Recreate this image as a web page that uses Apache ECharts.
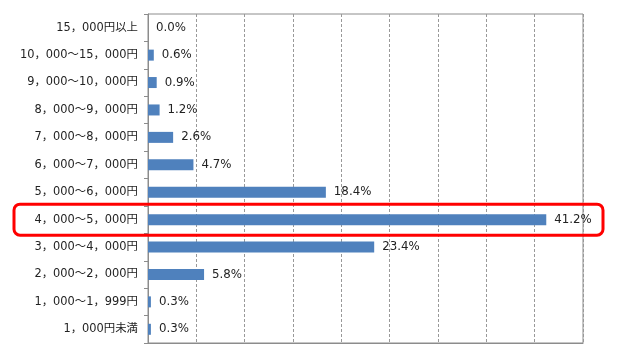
<!DOCTYPE html>
<html><head><meta charset="utf-8">
<script src="https://cdn.jsdelivr.net/npm/echarts@6/dist/echarts.min.js"></script>
<style>html,body{margin:0;padding:0;background:#fff}#c{width:620px;height:359px}</style>
</head><body><div id="c"></div>
<script>
const categories = ['15，000円以上','10，000～15，000円','9，000～10，000円','8，000～9，000円','7，000～8，000円','6，000～7，000円','5，000～6，000円','4，000～5，000円','3，000～4，000円','2，000～2，000円','1，000～1，999円','1，000円未満'];
const values = [0.0, 0.6, 0.9, 1.2, 2.6, 4.7, 18.4, 41.2, 23.4, 5.8, 0.3, 0.3];
const highlightCategory = '4，000～5，000円';

const chart = echarts.init(document.getElementById('c'), null, {renderer:'canvas'});
const font = '"DejaVu Sans", "Noto Sans CJK JP", sans-serif';
chart.setOption({
  animation:false,
  backgroundColor:'#fff',
  grid:{left:148,right:37,top:14,bottom:16,show:true,borderColor:'#8c8c8c',borderWidth:1,backgroundColor:'transparent'},
  xAxis:{type:'value',min:0,max:45,interval:5,
    axisLabel:{show:false},axisTick:{show:false},axisLine:{show:true,lineStyle:{color:'#8c8c8c'}},
    splitLine:{show:true,lineStyle:{color:'#999',type:[3,2],width:1}}},
  yAxis:{type:'category',data:categories,inverse:true,
    axisLine:{show:true,lineStyle:{color:'#8c8c8c'}},
    axisTick:{show:true,length:4,lineStyle:{color:'#8c8c8c'}},
    axisLabel:{color:'#222',fontSize:11.4,fontFamily:font,margin:10}},
  series:[{type:'bar',data:values,barWidth:11,
    itemStyle:{color:'#4f81bd'},
    label:{show:true,position:'right',distance:8,color:'#222',fontSize:11.8,fontFamily:font,
      formatter:p=>p.value.toFixed(1)+'%'}}]
});
const cy = chart.convertToPixel({yAxisIndex:0}, highlightCategory);
chart.setOption({graphic:[{type:'rect',shape:{x:14,y:cy-15.5,width:589,height:31,r:6},
  style:{fill:'none',stroke:'#ff0000',lineWidth:3},z:100}]});
</script></body></html>
